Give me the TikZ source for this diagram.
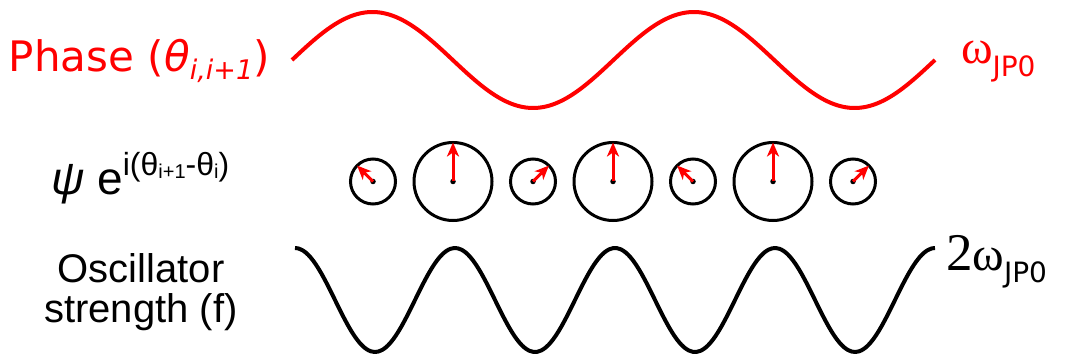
\documentclass[tikz,border=0pt]{standalone}
\usepackage{fontspec}
\setmainfont{DejaVu Sans}
\newfontfamily\arialfont{Liberation Sans}
\newfontfamily\timesfont{Liberation Serif}
\usetikzlibrary{arrows.meta}

\begin{document}
\begin{tikzpicture}[x=1pt, y=-1pt, every node/.style={inner sep=0pt, outer sep=0pt}]
  \tikzstyle{wave}=[line width=4pt, line join=round]
  \tikzstyle{smallring}=[draw, circle, line width=3pt, minimum size=45pt]
  \tikzstyle{bigring}=[draw, circle, line width=3pt, minimum size=78pt]
  \tikzstyle{dot}=[circle, fill=black, minimum size=5.5pt]
  \tikzstyle{phasor}=[red, line width=3pt, -{Stealth[length=14pt, width=12pt, inset=4pt]}]
  \useasboundingbox (0,0) rectangle (1071,358);
  % phase and oscillator strength
  \draw[wave, red] plot[domain=292:935, samples=130, smooth] (\x, {60-48*sin(1.1198*(\x-292))});
  \draw[wave] plot[domain=295:935, samples=170, smooth] (\x, {300-52*cos(2.25*(\x-295))});
  % phasors
  \node[smallring] (c1) at (373,181.5) {}; \node[dot] (d1) at (373,181.5) {};
  \node[bigring] (c2) at (453,181.5) {}; \node[dot] (d2) at (453,181.5) {};
  \node[smallring] (c3) at (533,181.5) {}; \node[dot] (d3) at (533,181.5) {};
  \node[bigring] (c4) at (613,181.5) {}; \node[dot] (d4) at (613,181.5) {};
  \node[smallring] (c5) at (693,181.5) {}; \node[dot] (d5) at (693,181.5) {};
  \node[bigring] (c6) at (773,181.5) {}; \node[dot] (d6) at (773,181.5) {};
  \node[smallring] (c7) at (853,181.5) {}; \node[dot] (d7) at (853,181.5) {};
  \draw[phasor] (d1.center) -- (c1.135); \draw[phasor] (d2.center) -- (c2.90);
  \draw[phasor] (d3.center) -- (c3.45); \draw[phasor] (d4.center) -- (c4.90);
  \draw[phasor] (d5.center) -- (c5.135); \draw[phasor] (d6.center) -- (c6.90);
  \draw[phasor] (d7.center) -- (c7.45);
  % labels
  \node[anchor=base west, text=red] (phase) at (9,72) {\fontsize{42}{42}\selectfont Phase (\textit{θ}\raisebox{-8pt}{\fontsize{27}{27}\selectfont\textit{i,i+1}})};
  \node[anchor=base west] (psi) at (51,194.5) {\arialfont\fontsize{46}{46}\selectfont\textit{ψ} e\raisebox{18.5pt}{\fontsize{32}{32}\selectfont i(θ\raisebox{-3pt}{\fontsize{20}{20}\selectfont i+1}-θ\raisebox{-3pt}{\fontsize{20}{20}\selectfont i})}};
  \node[align=center, font=\arialfont\fontsize{40}{40}\selectfont] (osc) at (141,292) {Oscillator\\strength (f)};
  \node[anchor=base west, text=red] (wjp) at (961,64) {{\timesfont\fontsize{48}{48}\selectfont ω}\raisebox{-13pt}{\fontsize{28}{28}\selectfont JP0}};
  \node[anchor=base west] (wjptwo) at (946,270) {{\timesfont\fontsize{53}{53}\selectfont 2\fontsize{48}{48}\selectfont ω}\raisebox{-13pt}{\fontsize{28}{28}\selectfont JP0}};
\end{tikzpicture}
\end{document}
